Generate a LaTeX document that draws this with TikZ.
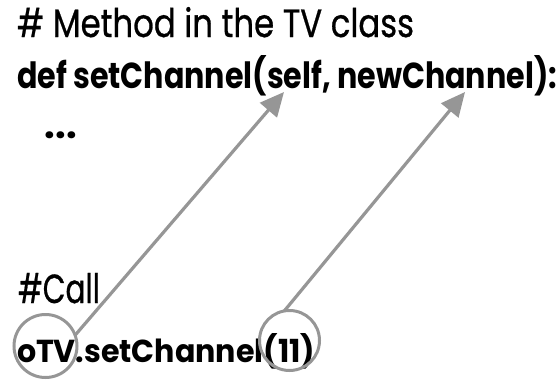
\documentclass[tikz,border=0pt]{standalone}
\usepackage{fontspec}
\setmainfont{Poppins}
\newfontfamily\medfont[FakeBold=0.8]{Poppins}
\usetikzlibrary{arrows.meta}
\definecolor{linegray}{RGB}{150,150,150}
\tikzset{
  txt/.style={anchor=base west, inner sep=0pt, outer sep=0pt, text=black},
  ring/.style={circle, draw=linegray, line width=3pt, inner sep=0pt, outer sep=0pt},
  pointer/.style={draw=linegray, line width=3.2pt, -{Triangle[length=24pt,width=22pt]}}
}
\begin{document}
\begin{tikzpicture}[x=1pt,y=-1pt]
\useasboundingbox (0,0) rectangle (560,383);
\node[txt] (l1) at (17,37) {\resizebox{397pt}{30pt}{\fontsize{36}{40}\medfont\#~Method in the TV class}};
\node[txt] (l2) at (17,88) {\resizebox{540pt}{33pt}{\fontsize{36}{40}\selectfont\bfseries def setChannel(self, newChannel):}};
\node[txt] (l3) at (45,138) {\resizebox{32pt}{!}{\fontsize{36}{40}\selectfont\bfseries ...}};
\node[txt] (l4) at (18,303) {\resizebox{82pt}{30pt}{\fontsize{36}{40}\medfont\#Call}};
\node[txt] (l5) at (17,362) {\resizebox{298pt}{29pt}{\fontsize{36}{40}\selectfont\bfseries oTV.setChannel(11)}};
\node[ring, minimum size=63pt] (c1) at (45.5,346) {};
\node[ring, minimum size=60pt] (c2) at (289.5,340.5) {};
\coordinate (t1) at (284,92);
\coordinate (t2) at (465,92);
\draw[pointer] (c1.20) -- (t1);
\draw[pointer] (c2.100) -- (t2);
\end{tikzpicture}
\end{document}
